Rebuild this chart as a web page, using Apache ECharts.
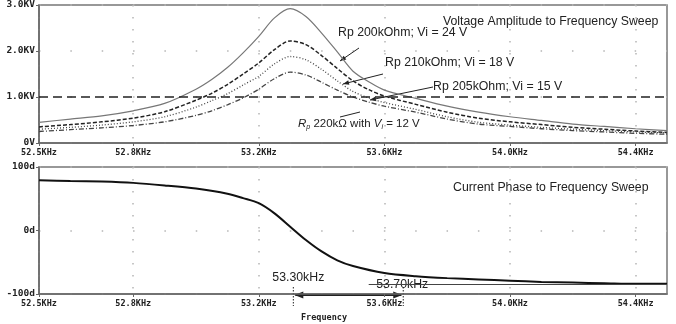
<!DOCTYPE html>
<html>
<head>
<meta charset="utf-8">
<script src="https://cdn.jsdelivr.net/npm/echarts@6/dist/echarts.min.js"></script>
<style>
html, body { margin: 0; padding: 0; background: #fff; }
#chart { width: 676px; height: 324px; }
</style>
</head>
<body>
<div id="chart"></div>
<script>
// amplitude sweep (KV)
var freqV = [52.5, 52.6, 52.7, 52.8, 52.9, 53.0, 53.05, 53.1, 53.15, 53.2, 53.25, 53.3, 53.35, 53.4, 53.45, 53.5, 53.55, 53.6, 53.7, 53.8, 53.9, 54.0, 54.1, 54.2, 54.3, 54.4, 54.5];
var vi24 = [0.45, 0.52, 0.59, 0.70, 0.86, 1.17, 1.38, 1.64, 1.96, 2.32, 2.72, 2.92, 2.75, 2.39, 1.98, 1.56, 1.33, 1.15, 0.97, 0.80, 0.67, 0.57, 0.49, 0.41, 0.36, 0.31, 0.27];
var vi18 = [0.35, 0.40, 0.46, 0.54, 0.68, 0.93, 1.08, 1.27, 1.50, 1.74, 2.03, 2.22, 2.14, 1.90, 1.62, 1.35, 1.16, 1.02, 0.84, 0.67, 0.54, 0.46, 0.40, 0.34, 0.30, 0.26, 0.23];
var vi15 = [0.30, 0.34, 0.39, 0.46, 0.57, 0.78, 0.92, 1.07, 1.26, 1.45, 1.72, 1.88, 1.81, 1.60, 1.35, 1.12, 0.98, 0.88, 0.73, 0.57, 0.45, 0.39, 0.34, 0.30, 0.27, 0.24, 0.22];
var vi12 = [0.25, 0.29, 0.33, 0.38, 0.46, 0.60, 0.70, 0.83, 0.98, 1.17, 1.40, 1.54, 1.48, 1.32, 1.15, 1.00, 0.89, 0.80, 0.67, 0.52, 0.41, 0.36, 0.31, 0.27, 0.24, 0.21, 0.19];

// phase sweep (deg)
var freqP = [52.5, 52.6, 52.7, 52.8, 52.9, 53.0, 53.1, 53.15, 53.2, 53.25, 53.3, 53.35, 53.4, 53.45, 53.5, 53.6, 53.7, 53.8, 53.9, 54.0, 54.1, 54.2, 54.3, 54.4, 54.5];
var phase = [79, 78, 77, 75, 71, 66, 58, 51, 43, 27, 6, -15, -33, -47, -56, -67, -72, -75, -77, -79, -81, -82, -83, -84, -84];

var xTicks = [52.5, 52.8, 53.2, 53.6, 54.0, 54.4];
var cursorFreqs = [53.31, 53.66];
var cursorLabels = ['53.30kHz', '53.70kHz'];

function pairs(xs, ys) {
    return xs.map(function (x, i) { return [x, ys[i]]; });
}

var monoFont = 'DejaVu Sans Mono';
var lblFont = 'Liberation Sans';

function xAxisCfg(idx) {
    return {
        type: 'value', gridIndex: idx, min: 52.5, max: 54.5,
        axisLine: { onZero: false, lineStyle: { color: '#666', width: 1.5 } },
        axisTick: { show: true, length: 3, customValues: xTicks, lineStyle: { color: '#666' } },
        axisLabel: {
            customValues: xTicks, fontSize: 8.5, margin: 5,
            fontFamily: monoFont, fontWeight: 'bold', color: '#222',
            formatter: function (v) { return v.toFixed(1) + 'KHz'; }
        },
        splitLine: { show: true, lineStyle: { color: '#b5b5b5', width: 1.5, type: [1.5, 10.5] } }
    };
}

var chart = echarts.init(document.getElementById('chart'));

chart.setOption({
    animation: false,
    backgroundColor: '#fff',
    grid: [
        { left: 39, top: 5, width: 628, height: 138, show: true, borderColor: '#777', borderWidth: 1.5 },
        { left: 39, top: 167, width: 628, height: 127, show: true, borderColor: '#777', borderWidth: 1.5 }
    ],
    xAxis: [xAxisCfg(0), xAxisCfg(1)],
    yAxis: [
        {
            type: 'value', gridIndex: 0, min: 0, max: 3, interval: 1,
            axisLine: { show: true, onZero: false, lineStyle: { color: '#666', width: 1.5 } },
            axisTick: { show: true, length: 3, lineStyle: { color: '#666' } },
            axisLabel: {
                fontSize: 9.5, margin: 4, fontFamily: monoFont, fontWeight: 'bold', color: '#222',
                formatter: function (v) { return v === 0 ? '0V' : v.toFixed(1) + 'KV'; }
            },
            splitLine: { show: true, lineStyle: { color: '#b5b5b5', width: 1.5, type: [1.5, 29.85] } }
        },
        {
            type: 'value', gridIndex: 1, min: -100, max: 100, interval: 100,
            axisLine: { show: true, onZero: false, lineStyle: { color: '#666', width: 1.5 } },
            axisTick: { show: true, length: 3, lineStyle: { color: '#666' } },
            axisLabel: {
                fontSize: 9.5, margin: 4, fontFamily: monoFont, fontWeight: 'bold', color: '#222',
                formatter: function (v) { return v + 'd'; }
            },
            splitLine: { show: true, lineStyle: { color: '#b5b5b5', width: 1.5, type: [1.5, 29.85] } }
        }
    ],
    series: [
        {
            name: 'Vi = 24 V', type: 'line', xAxisIndex: 0, yAxisIndex: 0, smooth: 0.3,
            showSymbol: false, data: pairs(freqV, vi24),
            lineStyle: { color: '#777', width: 1.2 },
            markLine: {
                silent: true, symbol: 'none', label: { show: false },
                lineStyle: { color: '#222', width: 1.6, type: [9, 5] },
                data: [{ yAxis: 1 }]
            }
        },
        {
            name: 'Vi = 18 V', type: 'line', xAxisIndex: 0, yAxisIndex: 0, smooth: 0.3,
            showSymbol: false, data: pairs(freqV, vi18),
            lineStyle: { color: '#222', width: 1.5, type: [4, 2] }
        },
        {
            name: 'Vi = 15 V', type: 'line', xAxisIndex: 0, yAxisIndex: 0, smooth: 0.3,
            showSymbol: false, data: pairs(freqV, vi15),
            lineStyle: { color: '#444', width: 1.3, type: [1, 2] }
        },
        {
            name: 'Vi = 12 V', type: 'line', xAxisIndex: 0, yAxisIndex: 0, smooth: 0.3,
            showSymbol: false, data: pairs(freqV, vi12),
            lineStyle: { color: '#444', width: 1.3, type: [5, 2, 1, 2] }
        },
        {
            name: 'Phase', type: 'line', xAxisIndex: 1, yAxisIndex: 1, smooth: 0.3,
            showSymbol: false, data: pairs(freqP, phase),
            lineStyle: { color: '#111', width: 2 },
            markLine: {
                silent: true, symbol: 'none', label: { show: false },
                lineStyle: { color: '#444', width: 1, type: 'solid' },
                data: [[{ coord: [53.55, -84] }, { coord: [54.5, -84] }]]
            }
        }
    ]
});

// annotation helpers
function arrowHead(x1, y1, x2, y2, size) {
    var a = Math.atan2(y2 - y1, x2 - x1);
    var s = size || 6;
    return {
        type: 'polygon', silent: true,
        shape: { points: [
            [x2, y2],
            [x2 - s * Math.cos(a) + s * 0.4 * Math.sin(a), y2 - s * Math.sin(a) - s * 0.4 * Math.cos(a)],
            [x2 - s * Math.cos(a) - s * 0.4 * Math.sin(a), y2 - s * Math.sin(a) + s * 0.4 * Math.cos(a)]
        ] },
        style: { fill: '#222' }
    };
}
function seg(x1, y1, x2, y2, dash, w) {
    return {
        type: 'line', silent: true,
        shape: { x1: x1, y1: y1, x2: x2, y2: y2 },
        style: { stroke: '#222', lineWidth: w || 1, lineDash: dash || null }
    };
}
function txt(x, y, s, size, rich) {
    return {
        type: 'text', silent: true, x: x, y: y,
        style: {
            text: s, fill: '#222', font: (size || 12) + 'px "' + lblFont + '"',
            verticalAlign: 'middle', rich: rich
        }
    };
}

var g = [];
g.push(txt(443, 22, 'Voltage Amplitude to Frequency Sweep', 12.3));
g.push(txt(453, 188, 'Current Phase to Frequency Sweep', 12.3));
g.push(txt(338, 33, 'Rp 200kOhm; Vi = 24 V', 12.3));
g.push(txt(385, 63, 'Rp 210kOhm; Vi = 18 V', 12.3));
g.push(txt(433, 87, 'Rp 205kOhm; Vi = 15 V', 12.3));
g.push(txt(298, 124, '{i|R}{s|p} 220kΩ with {i|V}{s|i} = 12 V', 11.5, {
    i: { fontStyle: 'italic', fontSize: 11.5, fontFamily: lblFont, fill: '#222' },
    s: { fontStyle: 'italic', fontSize: 7, fontFamily: lblFont, fill: '#222', verticalAlign: 'bottom', padding: [6, 0, 0, 0] }
}));

// leader lines
var leaders = [[359, 48, 340, 61], [383, 74, 343, 84], [433, 87, 370, 100], [360, 112, 340, 117]];
leaders.forEach(function (l, i) {
    g.push(seg(l[0], l[1], l[2], l[3], null, 1));
    if (i < 3) g.push(arrowHead(l[0], l[1], l[2], l[3], 6));
});

// frequency cursors on the phase plot
var cx = cursorFreqs.map(function (f) { return chart.convertToPixel({ xAxisIndex: 1 }, f); });
var yAxisPx = chart.convertToPixel({ yAxisIndex: 1 }, -100);
cx.forEach(function (x) {
    g.push(seg(x, yAxisPx - 7, x, yAxisPx + 12, [1.5, 1.5], 1));
});
g.push(seg(cx[0] + 2, yAxisPx + 1, cx[1] - 2, yAxisPx + 1, null, 2));
g.push(arrowHead(cx[1], yAxisPx + 1, cx[0] + 1, yAxisPx + 1, 9));
g.push(arrowHead(cx[0], yAxisPx + 1, cx[1] - 1, yAxisPx + 1, 9));
g.push(txt(cx[0] - 21, yAxisPx - 16, cursorLabels[0], 12.3));
g.push(txt(cx[1] - 27, yAxisPx - 9, cursorLabels[1], 12.3));
g.push({
    type: 'text', silent: true, x: 324, y: 318,
    style: { text: 'Frequency', fill: '#222', font: 'bold 8.5px "DejaVu Sans Mono"', align: 'center', verticalAlign: 'middle' }
});

chart.setOption({ graphic: g });
</script>
</body>
</html>
